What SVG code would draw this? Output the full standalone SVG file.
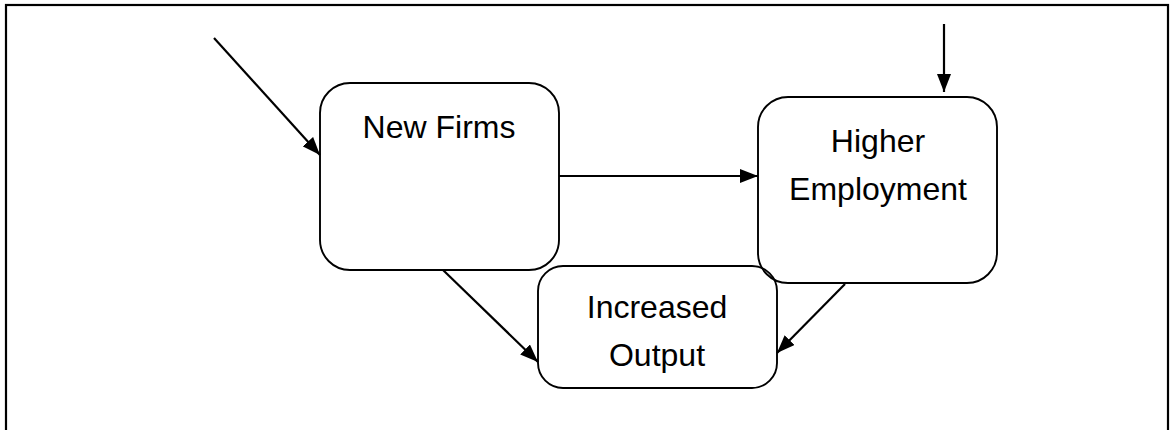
<svg xmlns="http://www.w3.org/2000/svg" width="1171" height="430" viewBox="0 0 1171 430">
  <style>
    .frame { fill: none; stroke: #000; stroke-width: 2.2; }
    .box { fill: none; stroke: #000; stroke-width: 1.9; }
    .label { font-family: "Liberation Sans", Arial, sans-serif; font-size: 32px; fill: #000; text-anchor: middle; }
    .conn { fill: none; stroke: #000; stroke-width: 2.2; marker-end: url(#arrow); }
  </style>
  <defs>
    <marker id="arrow" markerUnits="userSpaceOnUse" markerWidth="18" markerHeight="14" refX="18" refY="7" orient="auto">
      <path d="M0,0 L18,7 L0,14 Z" fill="#000"/>
    </marker>
  </defs>
  <rect width="1171" height="430" fill="#fff"/>
  <!-- outer frame -->
  <rect class="frame" x="6" y="5" width="1162" height="440"/>

  <g id="new-firms">
    <rect class="box" x="320" y="83" width="239" height="187" rx="30" ry="30"/>
    <text class="label" x="439" y="138">New Firms</text>
  </g>

  <g id="increased-output">
    <rect class="box" x="538" y="266" width="239" height="122" rx="25" ry="25"/>
    <text class="label" x="657" y="318">Increased</text>
    <text class="label" x="657" y="366">Output</text>
  </g>

  <g id="higher-employment">
    <rect class="box" x="758" y="97" width="239" height="186" rx="30" ry="30"/>
    <text class="label" x="878" y="152">Higher</text>
    <text class="label" x="878" y="200">Employment</text>
  </g>

  <g id="connectors">
    <line class="conn" x1="214" y1="38" x2="320" y2="155"/>
    <line class="conn" x1="559" y1="176" x2="758" y2="176"/>
    <line class="conn" x1="944" y1="24" x2="944" y2="92"/>
    <line class="conn" x1="443" y1="270" x2="538" y2="362"/>
    <line class="conn" x1="845" y1="284" x2="777" y2="353"/>
  </g>
</svg>
